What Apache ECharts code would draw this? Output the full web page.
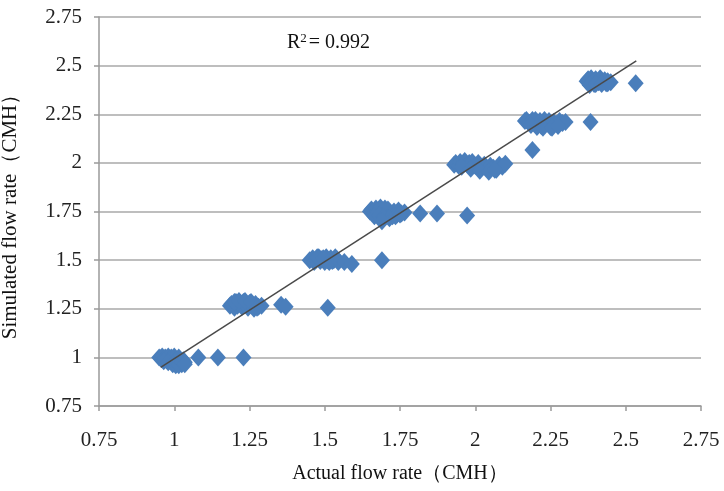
<!DOCTYPE html>
<html>
<head>
<meta charset="utf-8">
<title>Actual vs simulated flow rate</title>
<script src="https://cdn.jsdelivr.net/npm/echarts@6/dist/echarts.min.js"></script>
<style>
  html, body { margin: 0; padding: 0; background: #fff; }
  #chart { width: 724px; height: 491px; }
</style>
</head>
<body>
<div id="chart"></div>
<script>
// axis ticks (both axes share them)
const tickValues = [0.75, 1, 1.25, 1.5, 1.75, 2, 2.25, 2.5, 2.75]

// points, grouped by the level of simulated flow
const level1Actual = [0.95, 0.955, 0.96, 0.965, 0.97, 0.975, 0.98, 0.985, 0.99, 0.995, 1.0, 1.005, 1.01, 1.015, 1.02, 1.025, 1.03, 1.035, 0.965, 0.98, 0.995, 1.005, 1.015, 1.025, 1.035, 1.08, 1.145, 1.23]
const level1Sim    = [1.0, 0.995, 1.005, 0.99, 1.0, 0.985, 1.005, 0.99, 1.0, 0.975, 1.005, 0.985, 0.97, 1.0, 0.975, 0.965, 0.985, 0.975, 0.98, 0.975, 0.965, 0.96, 0.96, 0.975, 0.965, 1.0, 1.0, 1.0]

const level2Actual = [1.185, 1.19, 1.2, 1.205, 1.21, 1.22, 1.225, 1.23, 1.24, 1.245, 1.25, 1.26, 1.265, 1.27, 1.28, 1.29, 1.2, 1.215, 1.235, 1.255, 1.275, 1.355, 1.37]
const level2Sim    = [1.265, 1.275, 1.255, 1.285, 1.265, 1.28, 1.26, 1.285, 1.27, 1.255, 1.28, 1.265, 1.25, 1.275, 1.26, 1.265, 1.285, 1.29, 1.29, 1.285, 1.255, 1.27, 1.26]

const level3Actual = [1.45, 1.46, 1.465, 1.47, 1.48, 1.485, 1.49, 1.5, 1.505, 1.51, 1.52, 1.525, 1.53, 1.54, 1.545, 1.475, 1.495, 1.515, 1.535, 1.565, 1.59, 1.69, 1.51]
const level3Sim    = [1.5, 1.51, 1.49, 1.5, 1.515, 1.495, 1.505, 1.49, 1.515, 1.5, 1.51, 1.495, 1.5, 1.505, 1.49, 1.515, 1.51, 1.49, 1.515, 1.49, 1.48, 1.5, 1.255]

const level4Actual = [1.65, 1.655, 1.665, 1.67, 1.675, 1.685, 1.69, 1.7, 1.705, 1.71, 1.72, 1.725, 1.73, 1.74, 1.745, 1.755, 1.765, 1.665, 1.68, 1.695, 1.715, 1.735, 1.75, 1.69, 1.817, 1.873, 1.973]
const level4Sim    = [1.75, 1.76, 1.74, 1.765, 1.75, 1.77, 1.745, 1.765, 1.73, 1.76, 1.74, 1.725, 1.75, 1.735, 1.755, 1.74, 1.745, 1.725, 1.73, 1.72, 1.715, 1.725, 1.735, 1.7, 1.74, 1.74, 1.73]

const level5Actual = [1.93, 1.935, 1.945, 1.95, 1.96, 1.965, 1.975, 1.98, 1.99, 2.0, 2.01, 2.02, 2.03, 2.04, 2.05, 2.06, 2.07, 2.08, 2.09, 2.1, 1.955, 1.985, 2.015, 2.045, 2.065, 2.19]
const level5Sim    = [1.99, 2.0, 1.985, 2.005, 1.995, 2.01, 1.99, 2.0, 2.005, 1.985, 2.0, 1.975, 1.99, 1.97, 1.985, 1.975, 1.965, 1.99, 1.98, 1.995, 1.98, 1.97, 1.96, 1.955, 1.965, 2.066]

const level6Actual = [2.165, 2.17, 2.18, 2.19, 2.195, 2.2, 2.21, 2.215, 2.22, 2.23, 2.24, 2.245, 2.25, 2.26, 2.27, 2.28, 2.29, 2.3, 2.185, 2.205, 2.225, 2.255, 2.275, 2.383]
const level6Sim    = [2.215, 2.22, 2.205, 2.22, 2.21, 2.22, 2.2, 2.215, 2.19, 2.22, 2.205, 2.215, 2.185, 2.21, 2.2, 2.215, 2.205, 2.21, 2.195, 2.185, 2.18, 2.18, 2.19, 2.21]

const level7Actual = [2.37, 2.375, 2.38, 2.385, 2.39, 2.395, 2.4, 2.41, 2.415, 2.42, 2.43, 2.435, 2.44, 2.45, 2.38, 2.4, 2.42, 2.44, 2.533]
const level7Sim    = [2.42, 2.43, 2.41, 2.435, 2.42, 2.405, 2.43, 2.415, 2.435, 2.42, 2.425, 2.41, 2.42, 2.415, 2.4, 2.405, 2.405, 2.41, 2.41]

// linear trend line end points
const trendActual = [0.955, 2.535]
const trendSim    = [0.948, 2.525]

const rSquared = '0.992'

const actualAll = [].concat(level1Actual, level2Actual, level3Actual, level4Actual, level5Actual, level6Actual, level7Actual)
const simAll = [].concat(level1Sim, level2Sim, level3Sim, level4Sim, level5Sim, level6Sim, level7Sim)

const chart = echarts.init(document.getElementById('chart'))

const serif = '"Liberation Serif", "Times New Roman", serif'
const gridColor = '#a8a8a8'

const valueAxis = {
  type: 'value',
  min: tickValues[0],
  max: tickValues[tickValues.length - 1],
  interval: 0.25,
  axisLine: { show: true, lineStyle: { color: '#9a9a9a', width: 1.5 } },
  axisTick: { show: true, length: 5, lineStyle: { color: '#9a9a9a', width: 1.5 } },
  axisLabel: {
    color: '#222',
    fontFamily: serif,
    fontSize: 21,
    formatter: (v) => String(+v.toFixed(2))
  },
  nameTextStyle: { color: '#111', fontFamily: serif, fontSize: 20 }
}

const option = {
  animation: false,
  backgroundColor: '#fff',
  grid: { left: 99, right: 23, top: 17, bottom: 85, containLabel: false, outerBoundsMode: 'none' },
  xAxis: Object.assign({}, valueAxis, {
    name: 'Actual flow rate（CMH）',
    nameLocation: 'middle',
    nameGap: 58,
    splitLine: { show: false },
    axisLabel: Object.assign({}, valueAxis.axisLabel, { margin: 24 })
  }),
  yAxis: Object.assign({}, valueAxis, {
    name: 'Simulated flow rate（CMH）',
    nameLocation: 'middle',
    nameGap: 78,
    nameTextStyle: Object.assign({}, valueAxis.nameTextStyle, { fontSize: 21 }),
    splitLine: { show: true, lineStyle: { color: gridColor, width: 1.5 } },
    axisLabel: Object.assign({}, valueAxis.axisLabel, { margin: 17 })
  }),
  graphic: [{
    type: 'text',
    left: 287,
    top: 32,
    style: {
      text: '{r|R}{sup|2}{r|= ' + rSquared + '}',
      rich: {
        r: { fontFamily: serif, fontSize: 20, fill: '#111' },
        sup: { fontFamily: serif, fontSize: 13, fill: '#111', verticalAlign: 'top', padding: [0, 2, 8, 0] }
      },
      fontFamily: serif,
      fontSize: 20,
      fill: '#111'
    }
  }],
  series: [
    {
      type: 'scatter',
      symbol: 'diamond',
      symbolSize: [16, 18],
      itemStyle: { color: '#4a7ebb', opacity: 1 },
      data: actualAll.map((x, i) => [x, simAll[i]]),
      z: 2
    },
    {
      type: 'line',
      data: trendActual.map((x, i) => [x, trendSim[i]]),
      symbol: 'none',
      lineStyle: { color: '#4a4a4a', width: 1.5 },
      z: 3
    }
  ]
}

chart.setOption(option)
</script>
</body>
</html>
